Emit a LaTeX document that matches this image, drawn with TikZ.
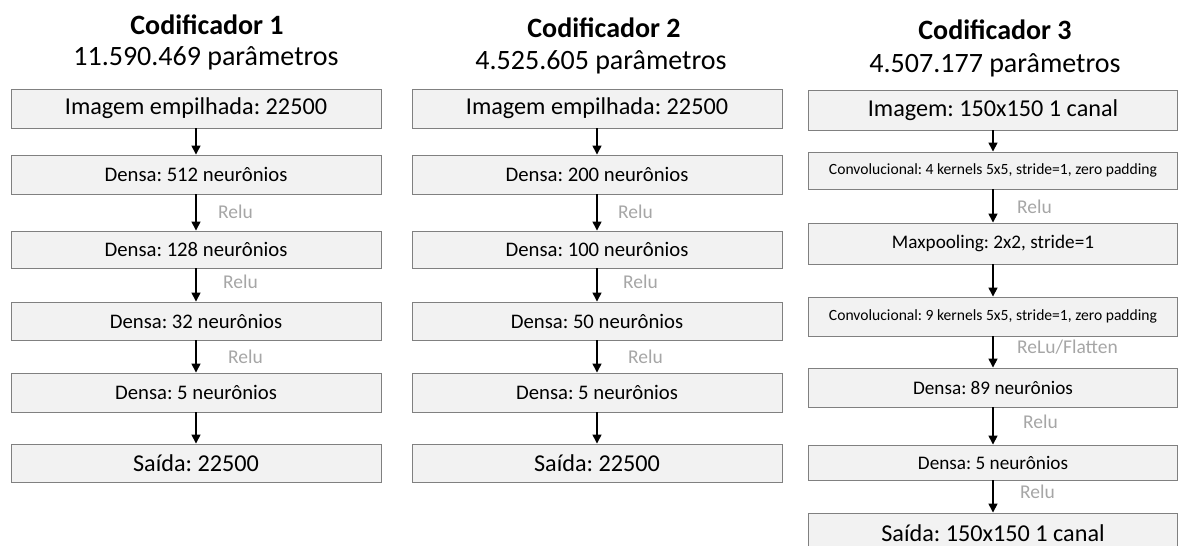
\documentclass[tikz,border=0pt]{standalone}
\usepackage{fontspec}
\setmainfont{Carlito}
\usetikzlibrary{arrows.meta}

\definecolor{boxfill}{HTML}{F2F2F2}
\definecolor{boxline}{HTML}{808080}
\definecolor{actgray}{HTML}{A6A6A6}

\tikzset{
  layer/.style={draw=boxline, fill=boxfill, line width=0.9pt, inner sep=0pt,
                anchor=center, text=black},
  title/.style={font=\fontsize{28}{30}\selectfont\bfseries, inner sep=0pt},
  params/.style={font=\fontsize{28}{30}\selectfont, inner sep=0pt},
  big/.style={font=\fontsize{24.2}{26}\selectfont},
  mid/.style={font=\fontsize{20.7}{22}\selectfont},
  midc/.style={font=\fontsize{19.2}{21}\selectfont},
  tiny/.style={font=\fontsize{15.6}{17}\selectfont},
  act/.style={text=actgray, anchor=west, inner sep=0pt, font=\fontsize{19.5}{21}\selectfont},
  flow/.style={line width=1.4pt, -{Triangle[width=9pt,length=9pt]}}
}

% \lay{name}{x-center}{width}{top}{bottom}{style}{text}
\newcommand{\lay}[7]{%
  \node[layer,#6, minimum width=#3pt, minimum height={(#5-#4)*1pt}]
    (#1) at (#2,{-(#4+#5)/2}) {#7};}

\begin{document}
\frenchspacing
\begin{tikzpicture}[x=1pt,y=1pt]
\useasboundingbox (0,0) rectangle (1178,-546);

% ---------- Codificador 1 ----------
\node[title]  (t1) at (207,-25) {Codificador 1};
\node[params] (p1) at (206,-58) {11.590.469 parâmetros};
\lay{a1}{196}{370}{89}{128}{big}{Imagem empilhada: 22500}
\lay{a2}{196}{370}{155}{194}{mid}{Densa: 512 neurônios}
\lay{a3}{196}{370}{231}{268}{mid}{Densa: 128 neurônios}
\lay{a4}{196}{370}{302}{340}{mid}{Densa: 32 neurônios}
\lay{a5}{196}{370}{373}{412}{mid}{Densa: 5 neurônios}
\lay{a6}{196}{370}{444}{482}{big}{Saída: 22500}
\foreach \u/\v in {a1/a2,a2/a3,a3/a4,a4/a5,a5/a6}
  \draw[flow] (\u.south) -- (\v.north);
\node[act] (ra1) at (218,-212) {Relu};
\node[act] (ra2) at (223,-282) {Relu};
\node[act] (ra3) at (228,-357) {Relu};

% ---------- Codificador 2 ----------
\node[title]  (t2) at (604,-28) {Codificador 2};
\node[params] (p2) at (601,-62) {4.525.605 parâmetros};
\lay{b1}{597}{370}{89}{128}{big}{Imagem empilhada: 22500}
\lay{b2}{597}{370}{155}{194}{mid}{Densa: 200 neurônios}
\lay{b3}{597}{370}{231}{268}{mid}{Densa: 100 neurônios}
\lay{b4}{597}{370}{302}{340}{mid}{Densa: 50 neurônios}
\lay{b5}{597}{370}{373}{412}{mid}{Densa: 5 neurônios}
\lay{b6}{597}{370}{444}{482}{big}{Saída: 22500}
\foreach \u/\v in {b1/b2,b2/b3,b3/b4,b4/b5,b5/b6}
  \draw[flow] (\u.south) -- (\v.north);
\node[act] (rb1) at (618,-212) {Relu};
\node[act] (rb2) at (623,-282) {Relu};
\node[act] (rb3) at (628,-357) {Relu};

% ---------- Codificador 3 ----------
\node[title]  (t3) at (995,-30) {Codificador 3};
\node[params] (p3) at (995,-65) {4.507.177 parâmetros};
\lay{c1}{993}{369}{90}{130}{big}{Imagem: 150x150 1 canal}
\lay{c2}{993}{369}{152}{189}{tiny}{Convolucional: 4 kernels 5x5, stride=1, zero padding}
\lay{c3}{993}{369}{223}{264}{midc}{Maxpooling: 2x2, stride=1}
\lay{c4}{993}{369}{297}{336}{tiny}{Convolucional: 9 kernels 5x5, stride=1, zero padding}
\lay{c5}{993}{369}{368}{407}{midc}{Densa: 89 neurônios}
\lay{c6}{993}{369}{445}{480}{midc}{Densa: 5 neurônios}
\lay{c7}{993}{369}{513}{553}{big}{Saída: 150x150 1 canal}
\foreach \u/\v in {c1/c2,c2/c3,c3/c4,c4/c5,c5/c6,c6/c7}
  \draw[flow] (\u.south) -- (\v.north);
\node[act] (rc1) at (1017,-207) {Relu};
\node[act] (rc2) at (1017,-347) {ReLu/Flatten};
\node[act] (rc3) at (1023,-422) {Relu};
\node[act] (rc4) at (1020,-492) {Relu};
\end{tikzpicture}
\end{document}
